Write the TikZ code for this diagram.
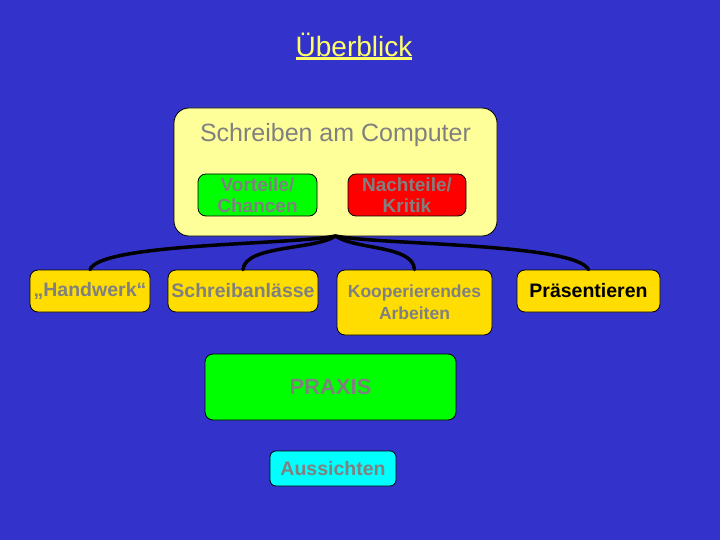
\documentclass[tikz,border=0pt]{standalone}
\usepackage{fontspec}
\setmainfont{Liberation Sans}
\definecolor{bgblue}{HTML}{3333CC}
\definecolor{txtgray}{HTML}{808080}
\definecolor{lightyel}{HTML}{FFFF99}
\definecolor{gold}{HTML}{FFDD00}
\definecolor{brightgreen}{HTML}{00FF00}
\definecolor{brightred}{HTML}{FF0000}
\definecolor{brightcyan}{HTML}{00FFFF}
\definecolor{titleyel}{HTML}{FFFF66}
\tikzset{
  box/.style={draw=black, line width=0.8pt, rounded corners=8pt, inner sep=0pt, align=center, text=txtgray},
  conn/.style={line width=3.5pt, black, line cap=round},
}
\begin{document}
\begin{tikzpicture}[x=1pt,y=-1pt]
\fill[bgblue] (0,0) rectangle (720,540);
\useasboundingbox (0,0) rectangle (720,540);
% title
\node[text=titleyel, font=\fontsize{28}{32}\selectfont, inner sep=0pt] (title) at (354,45) {Überblick};
\draw[titleyel, line width=3pt] (296,58.5) -- (412,58.5);
% connectors (behind)
\coordinate (apex) at (335.5,236);
% big box
\node[box, fill=lightyel, rounded corners=15pt, minimum width=323pt, minimum height=128pt] (big) at (335.5,172) {};
\node[text=txtgray, font=\fontsize{25}{28}\selectfont, inner sep=0pt] (sac) at (335.5,135) {Schreiben am Computer};
\node[box, fill=brightgreen, minimum width=119pt, minimum height=42pt, font=\bfseries\fontsize{19}{21.5}\selectfont] (vor) at (257.5,195) {Vorteile/\\Chancen};
\node[box, fill=brightred, minimum width=118pt, minimum height=42pt, font=\bfseries\fontsize{19}{21.5}\selectfont] (nach) at (407,195) {Nachteile/\\Kritik};
% lower boxes
\node[box, fill=gold, minimum width=120pt, minimum height=42pt, font=\bfseries\fontsize{19.5}{22}\selectfont] (hw) at (90,291) {„Handwerk“};
\node[box, fill=gold, minimum width=150pt, minimum height=42pt, font=\bfseries\fontsize{19.5}{22}\selectfont] (sa) at (243,291) {Schreibanlässe};
\node[box, fill=gold, minimum width=155pt, minimum height=65pt, font=\bfseries\fontsize{17.5}{22}\selectfont] (koop) at (414.5,302.5) {Kooperierendes\\Arbeiten};
\node[box, fill=gold, minimum width=143pt, minimum height=42pt, text=black, font=\bfseries\fontsize{19.5}{22}\selectfont] (pres) at (588.5,291) {Präsentieren};
\node[box, fill=brightgreen, minimum width=251pt, minimum height=66pt, font=\bfseries\fontsize{22}{24}\selectfont] (praxis) at (330.5,387) {PRAXIS};
\node[box, fill=brightcyan, rounded corners=6pt, minimum width=126pt, minimum height=35pt, font=\bfseries\fontsize{19.5}{22}\selectfont] (aus) at (333,468.5) {Aussichten};
% connectors
\draw[conn] (apex) .. controls (290,245) and (100,243) .. (hw.north);
\draw[conn] (apex) .. controls (315,250) and (245,245) .. (sa.north);
\draw[conn] (apex) .. controls (356,250) and (413,245) .. (koop.north);
\draw[conn] (apex) .. controls (380,245) and (575,243) .. (pres.north);
\end{tikzpicture}
\end{document}
